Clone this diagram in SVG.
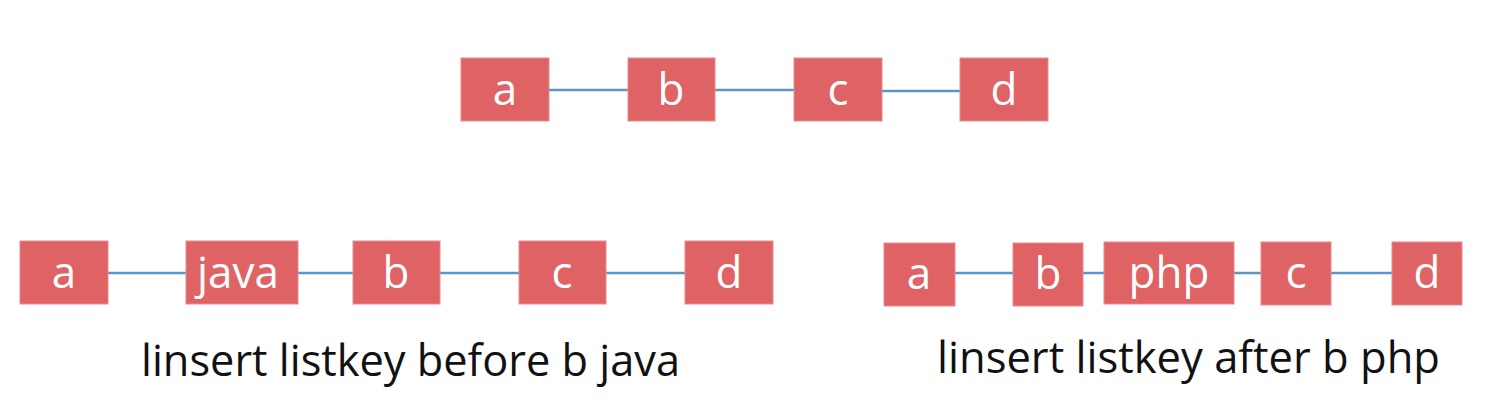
<svg xmlns="http://www.w3.org/2000/svg" width="1493" height="408" viewBox="0 0 1493 408">
<style>
.box{fill:#DF6365;stroke:#E88A8B;stroke-width:1}
.lbl{font-family:"Open Sans","Noto Sans",sans-serif;font-size:44px;fill:#ffffff;text-anchor:middle}
.ln{stroke:#5A96C8;stroke-width:2.5;fill:none}
.cap{font-family:"Open Sans","Noto Sans",sans-serif;font-size:44px;fill:#111111}
</style>
<rect width="1493" height="408" fill="#ffffff"/>
<g id="connectors">
<line class="ln" x1="549" y1="90" x2="628" y2="90"/>
<line class="ln" x1="715" y1="90" x2="794" y2="90"/>
<line class="ln" x1="882" y1="91" x2="960" y2="91"/>
<line class="ln" x1="108" y1="273" x2="186" y2="273"/>
<line class="ln" x1="289" y1="273" x2="353" y2="273"/>
<line class="ln" x1="440" y1="273" x2="519" y2="273"/>
<line class="ln" x1="606" y1="273" x2="685" y2="273"/>
<line class="ln" x1="955" y1="273" x2="1013" y2="273"/>
<line class="ln" x1="1083" y1="273" x2="1104" y2="273"/>
<line class="ln" x1="1234" y1="273" x2="1261" y2="273"/>
<line class="ln" x1="1331" y1="273" x2="1392" y2="273"/>
</g>
<g id="top-a"><rect class="box" x="461" y="58" width="88" height="63"/><text class="lbl" x="505" y="105">a</text></g>
<g id="top-b"><rect class="box" x="628" y="58" width="87" height="63"/><text class="lbl" x="671" y="105">b</text></g>
<g id="top-c"><rect class="box" x="794" y="58" width="88" height="63"/><text class="lbl" x="838" y="105">c</text></g>
<g id="top-d"><rect class="box" x="960" y="58" width="88" height="63"/><text class="lbl" x="1004" y="105">d</text></g>

<g id="l-a"><rect class="box" x="20" y="241" width="88" height="63"/><text class="lbl" x="64" y="288">a</text></g>
<g id="l-java"><rect class="box" x="186" y="241" width="112" height="63"/><text class="lbl" x="238" y="288">java</text></g>
<g id="l-b"><rect class="box" x="353" y="241" width="87" height="63"/><text class="lbl" x="396" y="288">b</text></g>
<g id="l-c"><rect class="box" x="519" y="241" width="87" height="63"/><text class="lbl" x="562" y="288">c</text></g>
<g id="l-d"><rect class="box" x="685" y="241" width="88" height="63"/><text class="lbl" x="729" y="288">d</text></g>

<g id="r-a"><rect class="box" x="884" y="243" width="71" height="63"/><text class="lbl" x="919" y="289">a</text></g>
<g id="r-b"><rect class="box" x="1013" y="243" width="70" height="63"/><text class="lbl" x="1048" y="289">b</text></g>
<g id="r-php"><rect class="box" x="1104" y="242" width="130" height="62"/><text class="lbl" x="1169" y="288">php</text></g>
<g id="r-c"><rect class="box" x="1261" y="242" width="70" height="63"/><text class="lbl" x="1296" y="288">c</text></g>
<g id="r-d"><rect class="box" x="1392" y="242" width="70" height="63"/><text class="lbl" x="1427" y="288">d</text></g>

<text class="cap" x="141" y="376" textLength="539" lengthAdjust="spacingAndGlyphs">linsert listkey before b java</text>
<text class="cap" x="937" y="373" textLength="503" lengthAdjust="spacingAndGlyphs">linsert listkey after b php</text>
</svg>
